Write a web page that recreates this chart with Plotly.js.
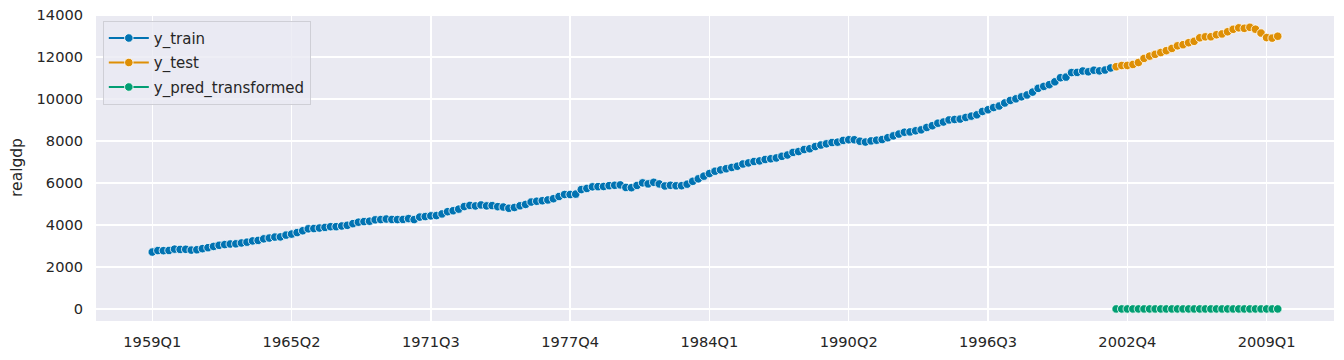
<!DOCTYPE html>
<html>
<head>
<meta charset="utf-8">
<script src="https://cdn.plot.ly/plotly-3.0.1.min.js"></script>
<style>html,body{margin:0;padding:0;background:#fff;}#chart{width:1344px;height:360px;}</style>
</head>
<body>
<div id="chart"></div>
<script>
// Quarterly real GDP, 1959Q1 .. 2009Q3
const realgdp = [
2710.349,2778.801,2775.488,2785.204,
2847.699,2834.390,2839.022,2802.616,
2819.264,2872.005,2918.419,2977.830,
3031.241,3064.709,3093.047,3100.563,
3141.087,3180.447,3240.332,3264.967,
3338.246,3376.587,3422.469,3431.957,
3516.251,3563.960,3636.285,3724.014,
3815.423,3828.124,3853.301,3884.520,
3918.740,3919.556,3950.826,3981.970,
4063.013,4131.998,4160.267,4178.293,
4244.100,4256.460,4283.378,4263.261,
4256.573,4264.289,4302.259,4256.637,
4374.016,4398.829,4433.943,4446.264,
4525.769,4633.101,4677.503,4754.046,
4876.166,4932.571,4906.252,4953.050,
4909.617,4922.188,4873.520,4854.340,
4795.295,4831.942,4913.328,4977.511,
5090.663,5128.947,5154.072,5191.499,
5251.762,5356.131,5451.921,5450.793,
5469.405,5684.569,5740.300,5816.222,
5825.949,5831.418,5873.335,5889.495,
5908.467,5787.373,5776.617,5883.026,
6005.717,5957.795,6030.184,5955.062,
5857.333,5889.074,5866.370,5871.001,
5944.020,6077.619,6197.468,6325.574,
6448.264,6559.594,6623.343,6677.264,
6740.275,6797.344,6903.523,6955.918,
7022.757,7050.969,7118.950,7153.359,
7193.019,7269.510,7332.558,7458.022,
7496.600,7592.881,7632.082,7733.991,
7806.603,7865.016,7927.393,7944.697,
8027.693,8059.598,8059.476,7988.864,
7950.164,8003.822,8037.538,8069.046,
8157.616,8244.294,8329.361,8417.016,
8432.485,8486.435,8531.108,8643.769,
8727.919,8847.303,8904.289,9003.180,
9025.267,9044.668,9120.684,9184.275,
9247.188,9407.052,9488.879,9592.458,
9666.235,9809.551,9932.672,10008.874,
10103.425,10194.277,10328.787,10507.575,
10601.179,10684.049,10819.914,11014.254,
11043.044,11258.454,11267.867,11334.544,
11297.171,11371.251,11340.075,11380.128,
11477.868,11538.770,11596.430,11598.824,
11645.819,11738.706,11935.461,12042.817,
12127.623,12213.818,12303.533,12410.282,
12534.113,12587.535,12683.153,12748.699,
12915.938,12962.462,12965.916,13060.679,
13099.901,13203.977,13321.109,13391.249,
13366.865,13415.266,13324.600,13141.920,
12925.410,12901.504,12990.341
];
const trainCount = 173;
const testCount = 30;
const yPredTransformed = [0,0,0,0,0,0,0,0,0,0,0,0,0,0,0,0,0,0,0,0,0,0,0,0,0,0,0,0,0,0];
const tickPositions = [0,25,50,75,100,125,150,175,200];
const tickLabels = ["1959Q1","1965Q2","1971Q3","1977Q4","1984Q1","1990Q2","1996Q3","2002Q4","2009Q1"];

const idx = realgdp.map((_, i) => i);
const xTrain = idx.slice(0, trainCount);
const yTrain = realgdp.slice(0, trainCount);
const xTest = idx.slice(trainCount, trainCount + testCount);
const yTest = realgdp.slice(trainCount, trainCount + testCount);

function series(x, y, name, color) {
  return {
    x: x, y: y, name: name, type: 'scatter', mode: 'lines+markers',
    legendgroup: name,
    line: {color: color, width: 2},
    marker: {color: color, size: 8.5, line: {color: '#ffffff', width: 0.8}}
  };
}

const data = [
  series(xTrain, yTrain, 'y_train', '#0173B2'),
  series(xTest, yTest, 'y_test', '#DE8F05'),
  series(xTest, yPredTransformed, 'y_pred_transformed', '#029E73')
];

const font = {family: 'DejaVu Sans, sans-serif', size: 14.6, color: '#262626'};
const layout = {
  width: 1344, height: 360,
  margin: {l: 96, r: 10, t: 14, b: 39, pad: 0},
  paper_bgcolor: '#ffffff',
  plot_bgcolor: '#EAEAF2',
  font: font,
  showlegend: true,
  legend: {
    x: 0.0055, y: 0.978, xanchor: 'left', yanchor: 'top',
    bgcolor: 'rgba(234,234,242,0.8)', bordercolor: '#cfcfd6', borderwidth: 1,
    font: {family: 'DejaVu Sans, sans-serif', size: 15, color: '#262626'},
    tracegroupgap: 2, itemwidth: 40
  },
  xaxis: {
    range: [-10.1, 212.1],
    tickmode: 'array', tickvals: tickPositions, ticktext: tickLabels,
    showgrid: true, gridcolor: '#ffffff', gridwidth: 1.3,
    zeroline: false, showline: false, ticks: '',
    ticklabelstandoff: 10,
    tickfont: font
  },
  yaxis: {
    range: [-575, 14050],
    tickmode: 'array', tickvals: [0,2000,4000,6000,8000,10000,12000,14000],
    ticktext: ['0','2000','4000','6000','8000','10000','12000','14000'],
    showgrid: true, gridcolor: '#ffffff', gridwidth: 1.3,
    zeroline: false, showline: false, ticks: '',
    ticklabelstandoff: 12,
    tickfont: font,
    title: {text: 'realgdp', font: {family: 'DejaVu Sans, sans-serif', size: 15.5, color: '#262626'}, standoff: 10}
  }
};

Plotly.newPlot('chart', data, layout, {displayModeBar: false, staticPlot: true});
</script>
</body>
</html>
